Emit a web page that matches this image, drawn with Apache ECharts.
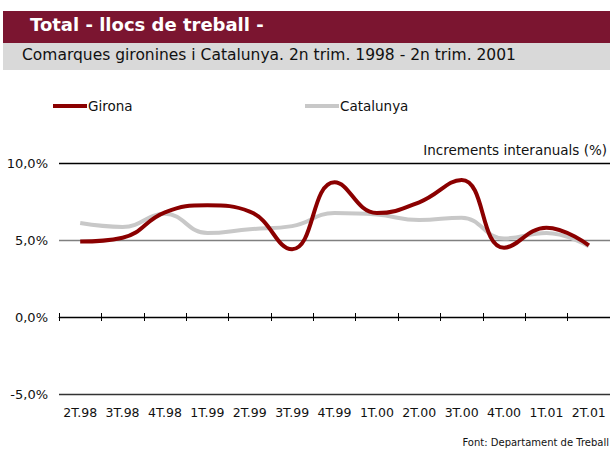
<!DOCTYPE html>
<html>
<head>
<meta charset="utf-8">
<script src="https://cdn.jsdelivr.net/npm/echarts@6/dist/echarts.min.js"></script>
<style>
html,body{margin:0;padding:0;background:#fff;}
#c{width:610px;height:453px;}
</style>
</head>
<body>
<div id="c"></div>
<script>
var categories = ['2T.98','3T.98','4T.98','1T.99','2T.99','3T.99','4T.99','1T.00','2T.00','3T.00','4T.00','1T.01','2T.01'];
var girona = [4.9, 5.15, 6.8, 7.25, 6.85, 4.4, 8.75, 6.75, 7.45, 8.9, 4.5, 5.8, 4.65];
var catalunya = [6.1, 5.85, 6.7, 5.45, 5.7, 5.9, 6.75, 6.65, 6.3, 6.45, 5.1, 5.45, 4.6];
var yTicks = [-5, 0, 5, 10];

var FONT = 'DejaVu Sans';
var GRID_TOP = 163, GRID_BOTTOM = 59, H = 453;
var plotH = H - GRID_TOP - GRID_BOTTOM;
var yMin = yTicks[0], yMax = yTicks[yTicks.length - 1];
var zeroFromTop = plotH * (yMax - 0) / (yMax - yMin);
var zeroFromBottom = plotH - zeroFromTop;

var chart = echarts.init(document.getElementById('c'), null, {renderer: 'svg'});
function fmt(v){ return v.toFixed(1).replace('.', ',') + '%'; }

var option = {
  animation: false,
  textStyle: {fontFamily: FONT},
  graphic: [
    {type: 'rect', shape: {x: 3, y: 11, width: 607, height: 32}, style: {fill: '#7B1530'}},
    {type: 'rect', shape: {x: 3, y: 43, width: 607, height: 27}, style: {fill: '#D9D9D9'}},
    {type: 'text', left: 30, top: 15, style: {text: 'Total - llocs de treball -', fill: '#fff', font: 'bold 18px ' + FONT}},
    {type: 'text', left: 22, top: 47, style: {text: 'Comarques gironines i Catalunya. 2n trim. 1998 - 2n trim. 2001', fill: '#111', font: '15.5px ' + FONT}},
    {type: 'text', right: 3, top: 143, style: {text: 'Increments interanuals (%)', fill: '#111', font: '13.5px ' + FONT}},
    {type: 'text', right: 1, top: 437, style: {text: 'Font: Departament de Treball', fill: '#111', font: '10px ' + FONT}}
  ],
  legend: [
    {data: ['Girona'], left: 48, top: 94, icon: 'rect', itemWidth: 34, itemHeight: 4, itemGap: 4,
     textStyle: {fontFamily: FONT, fontSize: 13.5, color: '#111', padding: [0,0,0,-4]}},
    {data: ['Catalunya'], left: 300, top: 94, icon: 'rect', itemWidth: 34, itemHeight: 4, itemGap: 4,
     textStyle: {fontFamily: FONT, fontSize: 13.5, color: '#111', padding: [0,0,0,-4]}}
  ],
  grid: {left: 59, right: 0, top: GRID_TOP, bottom: GRID_BOTTOM, containLabel: false},
  xAxis: [
    {type: 'category', data: categories, position: 'bottom', boundaryGap: true,
     axisLine: {show: false, onZero: false}, axisTick: {show: false},
     axisLabel: {color: '#111', fontSize: 12.5, fontFamily: FONT, margin: 12, interval: 0}},
    {type: 'category', data: categories, position: 'top', offset: -zeroFromTop, boundaryGap: true,
     axisLine: {show: true, onZero: false, lineStyle: {color: '#000', width: 1}},
     axisTick: {show: true, length: 4, inside: false, interval: 0, lineStyle: {color: '#000'}},
     axisLabel: {show: false}},
    {type: 'category', data: categories, position: 'bottom', offset: -zeroFromBottom, boundaryGap: true,
     axisLine: {show: false, onZero: false},
     axisTick: {show: true, length: 4, inside: false, interval: 0, lineStyle: {color: '#000'}},
     axisLabel: {show: false}}
  ],
  yAxis: {
    type: 'value', min: yMin, max: yMax, interval: 5,
    axisLine: {show: false}, axisTick: {show: false},
    axisLabel: {formatter: fmt, color: '#111', fontSize: 13, fontFamily: FONT, margin: 11},
    splitLine: {show: true, lineStyle: {color: ['#333', '#000', '#808080', '#000'], width: 1.3}}
  },
  series: [
    {name: 'Girona', type: 'line', data: girona, smooth: 0.45, symbol: 'none', xAxisIndex: 0,
     lineStyle: {color: '#8B0000', width: 4}, itemStyle: {color: '#8B0000'}, z: 3},
    {name: 'Catalunya', type: 'line', data: catalunya, smooth: 0.45, symbol: 'none', xAxisIndex: 0,
     lineStyle: {color: '#C8C8C8', width: 4}, itemStyle: {color: '#C8C8C8'}, z: 2}
  ]
};
chart.setOption(option);
</script>
</body>
</html>
